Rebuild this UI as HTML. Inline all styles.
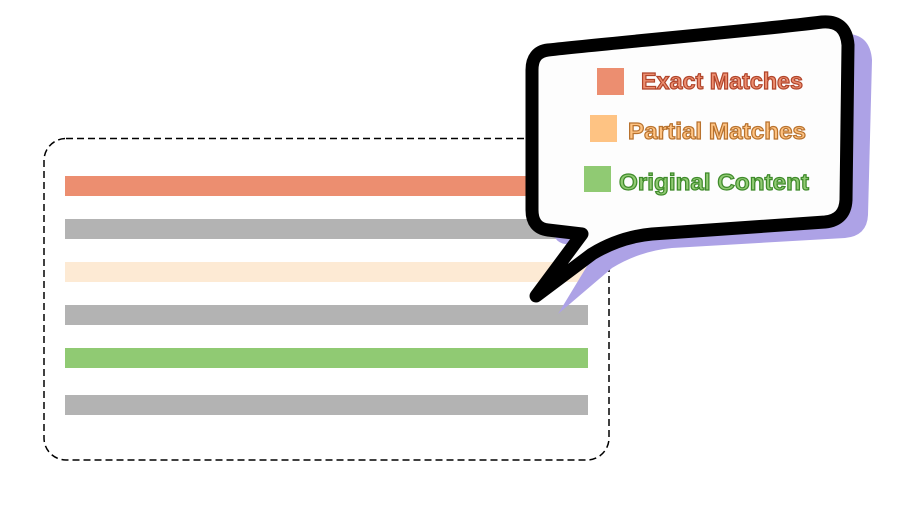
<!DOCTYPE html>
<html><head><style>html,body{margin:0;padding:0;background:#fff;}</style></head>
<body>
<svg width="899" height="501" viewBox="0 0 899 501" xmlns="http://www.w3.org/2000/svg">
<rect x="44" y="138.5" width="565" height="321.5" rx="22" fill="none" stroke="#000" stroke-width="1.5" stroke-dasharray="7,4"/>
<rect x="65" y="176" width="523" height="20" fill="#ec8e70"/>
<rect x="65" y="219" width="523" height="20" fill="#b3b3b3"/>
<rect x="65" y="262" width="523" height="20" fill="#fdead4"/>
<rect x="65" y="305" width="523" height="20" fill="#b3b3b3"/>
<rect x="65" y="348" width="523" height="20" fill="#90ca73"/>
<rect x="65" y="395" width="523" height="20" fill="#b3b3b3"/>
<path d="M 568,60 C 640,52 780,42 842,34 Q 870,32 872,60 L 868,215 Q 867,236 845,238 L 672,248 Q 640,251 612,268 L 558,314 L 598,248 L 565,244 Q 552,242 552,224 L 552,80 Q 552,62 568,60 Z" fill="#ada2e6"/>
<path d="M 548,50 C 620,42 760,30 822,22 Q 846,20 848,45 L 846,200 Q 845,220 825,222 L 652,234 Q 620,237 592,254 L 536,296 L 582,234 L 548,230 Q 532,228 532,210 L 532,70 Q 532,52 548,50 Z" fill="#fdfdfd" stroke="#000" stroke-width="13" stroke-linejoin="round"/>
<g font-family="Liberation Sans, sans-serif" font-weight="bold" font-size="23.5" stroke-width="1.2">
<rect x="597" y="68" width="27" height="27" fill="#ec8e70"/>
<text x="641" y="89" fill="#ec8e70" stroke="#b0442a" textLength="162" lengthAdjust="spacingAndGlyphs">Exact Matches</text>
<rect x="590" y="115" width="27" height="27" fill="#fec383"/>
<text x="628" y="139" fill="#fec383" stroke="#b8722e" textLength="178" lengthAdjust="spacingAndGlyphs">Partial Matches</text>
<rect x="584" y="166" width="27" height="26" fill="#90ca73"/>
<text x="619" y="190" fill="#90ca73" stroke="#3e8a2a" textLength="190" lengthAdjust="spacingAndGlyphs">Original Content</text>
</g>
</svg>
</body></html>
